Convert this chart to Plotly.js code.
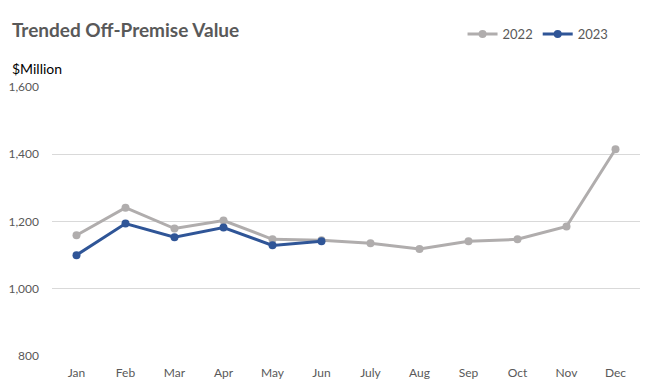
<!DOCTYPE html>
<html>
<head>
<meta charset="utf-8">
<script src="https://cdn.plot.ly/plotly-3.0.1.min.js"></script>
<style>html,body{margin:0;padding:0;background:#fff;}#chart{width:660px;height:392px;}</style>
</head>
<body>
<div id="chart"></div>
<script>
const months = ["Jan","Feb","Mar","Apr","May","Jun","July","Aug","Sep","Oct","Nov","Dec"];
const values2022 = [1159, 1241, 1179, 1203, 1147, 1144, 1135, 1118, 1141, 1147, 1185, 1415];
const months2023 = ["Jan","Feb","Mar","Apr","May","Jun"];
const values2023 = [1100, 1194, 1153, 1182, 1129, 1141];
const yTicks = [800, 1000, 1200, 1400, 1600];
const yTickText = ["800", "1,000", "1,200", "1,400", "1,600"];

const traces = [
  {x: months, y: values2022, name: "2022", type: "scatter", mode: "lines+markers",
   line: {color: "#b0adad", width: 3}, marker: {color: "#b0adad", size: 8}},
  {x: months2023, y: values2023, name: "2023", type: "scatter", mode: "lines+markers",
   line: {color: "#2f5597", width: 3}, marker: {color: "#2f5597", size: 8}}
];

const layout = {
  width: 660, height: 392,
  margin: {l: 52, r: 20, t: 87, b: 36},
  paper_bgcolor: "#fff", plot_bgcolor: "#fff",
  font: {family: "Lato, 'Open Sans', sans-serif", color: "#595959", size: 12},
  title: {text: "<b>Trended Off-Premise Value</b>", font: {family: "Lato, sans-serif", size: 19, color: "#595959"},
          xref: "container", x: 0.018, xanchor: "left", yref: "container", y: 0.923, yanchor: "middle"},
  showlegend: true,
  legend: {orientation: "h", xref: "paper", x: 0.955, xanchor: "right", yref: "paper", y: 1.197, yanchor: "middle",
           font: {size: 13, color: "#595959"}, itemwidth: 30, bgcolor: "rgba(0,0,0,0)"},
  xaxis: {type: "category", categoryorder: "array", categoryarray: months, range: [-0.5, 11.5], showgrid: false, zeroline: false,
          showline: false, ticks: "", tickfont: {size: 12, color: "#595959"}, ticklabelstandoff: 8, fixedrange: true},
  yaxis: {range: [800, 1600], tickvals: yTicks, ticktext: yTickText, showgrid: true, gridcolor: "#d9d9d9", gridwidth: 1,
          zeroline: false, showline: false, ticks: "", tickfont: {size: 12, color: "#595959"}, ticklabelstandoff: 12, fixedrange: true},
  annotations: [
    {text: "$Million", xref: "paper", yref: "paper", x: -0.072, y: 1.07, xanchor: "left", yanchor: "middle",
     showarrow: false, font: {family: "Lato, sans-serif", size: 14, color: "#000"}}
  ]
};

Plotly.newPlot("chart", traces, layout, {displayModeBar: false, staticPlot: true});
</script>
</body>
</html>
